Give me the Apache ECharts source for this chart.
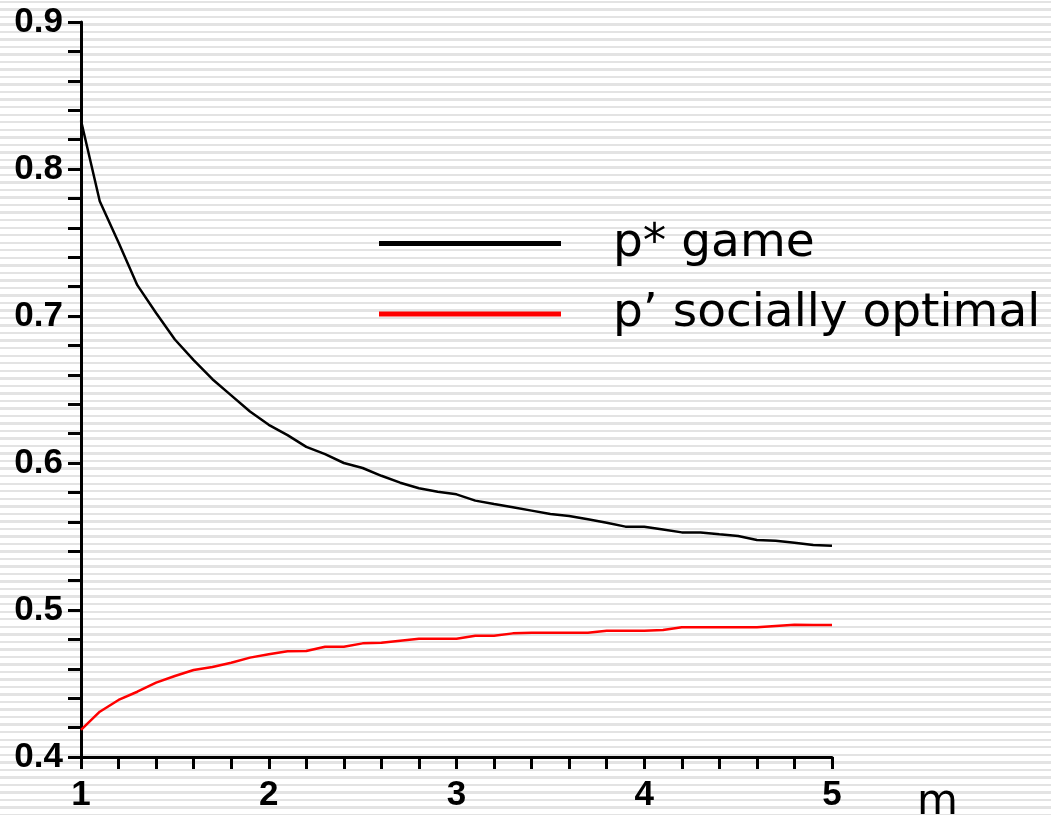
<!DOCTYPE html>
<html>
<head>
<meta charset="utf-8">
<script src="https://cdn.jsdelivr.net/npm/echarts@6/dist/echarts.min.js"></script>
<style>
html,body{margin:0;padding:0;width:1051px;height:815px;overflow:hidden;}
body{background:repeating-linear-gradient(to bottom,#ffffff 0px,#ffffff 0.6px,#e3e3e3 0.6px,#e3e3e3 3.0px,#ffffff 3.0px,#ffffff 7.53px);}
#c{width:1051px;height:815px;}
</style>
</head>
<body>
<div id="c"></div>
<script>
const mValues = [1.0,1.1,1.2,1.3,1.4,1.5,1.6,1.7,1.8,1.9,2.0,2.1,2.2,2.3,2.4,2.5,2.6,2.7,2.8,2.9,3.0,3.1,3.2,3.3,3.4,3.5,3.6,3.7,3.8,3.9,4.0,4.1,4.2,4.3,4.4,4.5,4.6,4.7,4.8,4.9,5.0];
const pGame = [0.833,0.778,0.750,0.721,0.702,0.684,0.670,0.657,0.646,0.635,0.626,0.619,0.611,0.606,0.600,0.5966,0.5913,0.5866,0.5828,0.5805,0.5787,0.5744,0.5721,0.5699,0.5676,0.5653,0.5639,0.5617,0.5594,0.5567,0.5567,0.5548,0.5528,0.5528,0.5515,0.5503,0.5476,0.5471,0.5458,0.5442,0.5437];
const pSocial = [0.4184,0.4308,0.4388,0.4444,0.4506,0.4551,0.4592,0.4612,0.4641,0.4676,0.4699,0.4719,0.4721,0.4750,0.4750,0.4773,0.4777,0.4791,0.4805,0.4805,0.4805,0.4825,0.4825,0.4841,0.4846,0.4846,0.4846,0.4846,0.4859,0.4859,0.4859,0.4864,0.4882,0.4882,0.4882,0.4882,0.4882,0.4891,0.4900,0.4898,0.4898];
const seriesNames = ['p* game','p\u2019 socially optimal'];
const xAxisName = 'm';

const chart = echarts.init(document.getElementById('c'), null, {renderer:'canvas'});
const labelFont = {fontFamily:'Liberation Sans', fontWeight:'bold', fontSize:35, color:'#000'};
chart.setOption({
  backgroundColor:'transparent',
  animation:false,
  grid:{left:81,right:219,top:22,bottom:58,containLabel:false,outerBoundsMode:'none'},
  legend:{
    orient:'vertical', left:374, top:215, itemGap:23.5,
    icon:'rect', itemWidth:182, itemHeight:5,
    selectedMode:false,
    textStyle:{fontFamily:'DejaVu Sans', fontSize:47, color:'#000', padding:[0,0,0,47]},
    data:seriesNames
  },
  xAxis:{
    type:'value', min:1, max:5, interval:1,
    name:xAxisName, nameLocation:'end', nameGap:85,
    nameTextStyle:{fontFamily:'DejaVu Sans', fontSize:42, color:'#000', verticalAlign:'top', padding:[25,0,0,0]},
    axisLine:{lineStyle:{color:'#000',width:3}},
    axisTick:{show:true,inside:false,length:12,lineStyle:{color:'#000',width:3}},
    minorTick:{show:true,splitNumber:5,length:12,lineStyle:{color:'#000',width:3}},
    axisLabel:{...labelFont, margin:21},
    splitLine:{show:false}
  },
  yAxis:{
    type:'value', min:0.4, max:0.9, interval:0.1,
    axisLine:{show:true,lineStyle:{color:'#000',width:3}},
    axisTick:{show:true,inside:false,length:13,lineStyle:{color:'#000',width:3}},
    minorTick:{show:true,splitNumber:5,length:13,lineStyle:{color:'#000',width:3}},
    axisLabel:{...labelFont, margin:18, formatter:v=>v.toFixed(1)},
    splitLine:{show:false}
  },
  series:[
    {name:seriesNames[0], type:'line', data:mValues.map((m,i)=>[m,pGame[i]]), showSymbol:false, smooth:false,
     lineStyle:{color:'#000',width:2.5}, itemStyle:{color:'#000'}},
    {name:seriesNames[1], type:'line', data:mValues.map((m,i)=>[m,pSocial[i]]), showSymbol:false, smooth:false,
     lineStyle:{color:'#ff0000',width:2.5}, itemStyle:{color:'#ff0000'}}
  ]
});
</script>
</body>
</html>
